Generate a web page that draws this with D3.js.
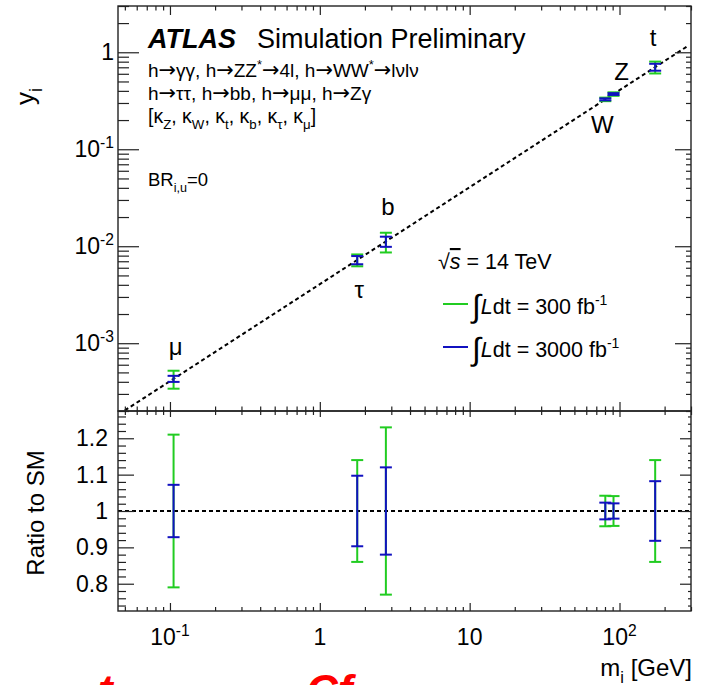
<!DOCTYPE html>
<html>
<head>
<meta charset="utf-8">
<script src="https://cdn.jsdelivr.net/npm/d3@7"></script>
<style>
  body { margin: 0; background: #fff; }
  svg { display: block; }
  text { font-family: "Liberation Sans", Arial, Helvetica, sans-serif; fill: #000; }
</style>
</head>
<body>
<svg id="chart"></svg>
<script>
// particle data
const particles = ["μ", "τ", "b", "W", "Z", "t"];
const masses = [0.1057, 1.777, 2.76, 80.4, 91.19, 173.0];      // GeV
const yValues = [4.3e-4, 7.22e-3, 1.12e-2, 0.327, 0.371, 0.703];
const ratioValues = [1, 1, 1, 1, 1, 1];
// relative uncertainties
const err300 = [0.21, 0.14, 0.23, 0.042, 0.041, 0.14];
const err3000 = [0.072, 0.097, 0.12, 0.023, 0.021, 0.082];
// SM expectation line y = m / v
const smLineMass = [0.05, 285];
const smLineY = [2.03e-4, 1.158];

const xMajorTicks = [0.1, 1, 10, 100];
const xTickLabels = [["10", "-1"], ["1", ""], ["10", ""], ["10", "2"]];
const yMajorTicks = [1, 0.1, 0.01, 0.001];
const yTickLabels = [["1", ""], ["10", "-1"], ["10", "-2"], ["10", "-3"]];
const ratioTicks = [0.8, 0.9, 1, 1.1, 1.2];
const ratioTickLabels = ["0.8", "0.9", "1", "1.1", "1.2"];

const width = 704, height = 685;
const frame = { left: 118, right: 691, top: 6, mid: 411, bottom: 611 };
const green = "#21cc21", blue = "#1111c0";

const svg = d3.select("#chart").attr("width", width).attr("height", height);

const x = d3.scaleLog().domain([0.045, 300]).range([frame.left, frame.right]);
const yTop = d3.scaleLog().domain([2e-4, 3]).range([frame.mid, frame.top]);
const yRatio = d3.scaleLinear().domain([0.725, 1.275]).range([frame.bottom, frame.mid]);

const isDecade = t => Math.abs(Math.log10(t) - Math.round(Math.log10(t))) < 1e-9;
const xMinor = x.ticks().filter(t => !isDecade(t));
const yMinor = yTop.ticks().filter(t => !isDecade(t));
const ratioMinor = yRatio.ticks(27).filter(t => !ratioTicks.some(m => Math.abs(m - t) < 1e-9));

// tick marks drawn with d3 axes, labels done separately
function tickMarks(axisFn, scale, values, size, transform) {
    svg.append("g")
        .attr("transform", transform)
        .call(axisFn(scale).tickValues(values).tickSize(size).tickSizeOuter(0).tickFormat(""))
        .call(g => g.select(".domain").remove())
        .call(g => g.selectAll("text").remove())
        .selectAll("line").attr("stroke", "#222").attr("stroke-width", 1.2);
}

// text with simple sub/superscript parts: [string, kind]
// arrows in normal parts get a wider glyph, like ROOT's #rightarrow
function richText(g, px, py, parts, size, anchor) {
    const t = g.append("text").attr("x", px).attr("y", py)
        .attr("font-size", size).attr("text-anchor", anchor || "start");
    let shift = 0;
    const expanded = [];
    parts.forEach(([s, kind]) => {
        if (kind === "n" && s.includes("→")) {
            s.split(/(→)/).forEach(piece => {
                if (piece) expanded.push([piece, piece === "→" ? "arrow" : "n"]);
            });
        } else expanded.push([s, kind]);
    });
    expanded.forEach(([s, kind]) => {
        if (!s) return;
        const sp = t.append("tspan").text(s);
        let target = 0;
        if (kind === "sub") { target = size * 0.3; sp.attr("font-size", size * 0.68); }
        else if (kind === "sup") { target = -size * 0.4; sp.attr("font-size", size * 0.68); }
        else if (kind === "it") { sp.attr("font-style", "italic"); }
        else if (kind === "bi") { sp.attr("font-style", "italic").attr("font-weight", "bold"); }
        else if (kind === "arrow") { sp.attr("font-family", "DejaVu Sans").attr("font-size", size * 1.1); }
        if (target !== shift) { sp.attr("dy", target - shift); shift = target; }
    });
    return t;
}

// ---------- top panel ----------
svg.append("clipPath").attr("id", "clipTop")
    .append("rect").attr("x", frame.left).attr("y", frame.top)
    .attr("width", frame.right - frame.left).attr("height", frame.mid - frame.top);

const topPanel = svg.append("g").attr("clip-path", "url(#clipTop)");

topPanel.append("path")
    .datum(d3.zip(smLineMass, smLineY))
    .attr("d", d3.line().x(d => x(d[0])).y(d => yTop(d[1])))
    .attr("fill", "none").attr("stroke", "#000").attr("stroke-width", 2)
    .attr("stroke-dasharray", "4,3");

function errorBars(g, yScale, centers, errs, relative, color) {
    const cap = 6;
    const lo = centers.map((c, i) => relative ? c * (1 - errs[i]) : c - errs[i]);
    const hi = centers.map((c, i) => relative ? c * (1 + errs[i]) : c + errs[i]);
    const bars = g.append("g").attr("stroke", color).attr("stroke-width", 2);
    masses.forEach((m, i) => {
        const cx = x(m);
        bars.append("line").attr("x1", cx).attr("x2", cx)
            .attr("y1", yScale(lo[i])).attr("y2", yScale(hi[i]));
        [lo[i], hi[i]].forEach(v => {
            bars.append("line").attr("x1", cx - cap).attr("x2", cx + cap)
                .attr("y1", yScale(v)).attr("y2", yScale(v));
        });
    });
}

errorBars(topPanel, yTop, yValues, err300, true, green);
errorBars(topPanel, yTop, yValues, err3000, true, blue);

// particle labels, offset from each point
const labelOffset = { "μ": [2, -24], "τ": [2, 38], "b": [2, -26], "W": [-3, 34], "Z": [8, -14], "t": [-2, -21] };
particles.forEach((p, i) => {
    svg.append("text")
        .attr("x", x(masses[i]) + labelOffset[p][0])
        .attr("y", yTop(yValues[i]) + labelOffset[p][1])
        .attr("text-anchor", "middle").attr("font-size", 24).text(p);
});

// ---------- ratio panel ----------
const bot = svg.append("g");
bot.append("line")
    .attr("x1", frame.left).attr("x2", frame.right)
    .attr("y1", yRatio(1)).attr("y2", yRatio(1))
    .attr("stroke", "#000").attr("stroke-width", 2).attr("stroke-dasharray", "4,3");
errorBars(bot, yRatio, ratioValues, err300, false, green);
errorBars(bot, yRatio, ratioValues, err3000, false, blue);

// ---------- frames and ticks ----------
[[frame.top, frame.mid], [frame.mid, frame.bottom]].forEach(([y0, y1]) => {
    svg.append("rect").attr("x", frame.left).attr("y", y0)
        .attr("width", frame.right - frame.left).attr("height", y1 - y0)
        .attr("fill", "none").attr("stroke", "#222").attr("stroke-width", 1.4);
});

// top panel
tickMarks(d3.axisLeft, yTop, yMajorTicks, -21, `translate(${frame.left},0)`);
tickMarks(d3.axisLeft, yTop, yMinor, -11, `translate(${frame.left},0)`);
tickMarks(d3.axisRight, yTop, yMajorTicks, -16, `translate(${frame.right},0)`);
tickMarks(d3.axisRight, yTop, yMinor, -5, `translate(${frame.right},0)`);
tickMarks(d3.axisTop, x, xMajorTicks, -9, `translate(0,${frame.top})`);
tickMarks(d3.axisTop, x, xMinor, -4.5, `translate(0,${frame.top})`);
tickMarks(d3.axisBottom, x, xMajorTicks, -9, `translate(0,${frame.mid})`);
tickMarks(d3.axisBottom, x, xMinor, -4.5, `translate(0,${frame.mid})`);
// ratio panel
tickMarks(d3.axisTop, x, xMajorTicks, -6, `translate(0,${frame.mid})`);
tickMarks(d3.axisTop, x, xMinor, -4, `translate(0,${frame.mid})`);
tickMarks(d3.axisBottom, x, xMajorTicks, -8, `translate(0,${frame.bottom})`);
tickMarks(d3.axisBottom, x, xMinor, -4, `translate(0,${frame.bottom})`);
tickMarks(d3.axisLeft, yRatio, ratioTicks, -16, `translate(${frame.left},0)`);
tickMarks(d3.axisLeft, yRatio, ratioMinor, -8, `translate(${frame.left},0)`);
tickMarks(d3.axisRight, yRatio, ratioTicks, -11, `translate(${frame.right},0)`);
tickMarks(d3.axisRight, yRatio, ratioMinor, -3, `translate(${frame.right},0)`);

// tick labels
const labels = svg.append("g");
xMajorTicks.forEach((t, i) => {
    richText(labels, x(t), 645, [[xTickLabels[i][0], "n"], [xTickLabels[i][1], "sup"]], 23, "middle");
});
yMajorTicks.forEach((t, i) => {
    richText(labels, 114, yTop(t) + 8, [[yTickLabels[i][0], "n"], [yTickLabels[i][1], "sup"]], 23, "end");
});
ratioTicks.forEach((t, i) => {
    labels.append("text").attr("x", 108).attr("y", yRatio(t) + 8)
        .attr("text-anchor", "end").attr("font-size", 23).text(ratioTickLabels[i]);
});

// axis titles
richText(svg.append("g").attr("transform", "translate(34,88) rotate(-90)"),
    0, 0, [["y", "n"], ["i", "sub"]], 26, "end");
svg.append("text").attr("transform", "translate(44,513) rotate(-90)")
    .attr("text-anchor", "middle").attr("font-size", 24).text("Ratio to SM");
richText(svg, 692, 676, [["m", "n"], ["i", "sub"], [" [GeV]", "n"]], 24, "end");

// ---------- annotations ----------
richText(svg, 148, 48, [["ATLAS", "bi"]], 27);
svg.append("text").attr("x", 257).attr("y", 48).attr("font-size", 27).text("Simulation Preliminary");
richText(svg, 148, 77, [["h→γγ, h→ZZ", "n"], ["*", "sup"], ["→4l, h→WW", "n"], ["*", "sup"], ["→lνlν", "n"]], 19);
richText(svg, 148, 100, [["h→ττ, h→bb, h→μμ, h→Zγ", "n"]], 19);
richText(svg, 148, 123, [["[κ", "n"], ["Z", "sub"], [", κ", "n"], ["W", "sub"], [", κ", "n"], ["t", "sub"],
    [", κ", "n"], ["b", "sub"], [", κ", "n"], ["τ", "sub"], [", κ", "n"], ["μ", "sub"], ["]", "n"]], 19.5);
richText(svg, 148, 186, [["BR", "n"], ["i,u", "sub"], ["=0", "n"]], 18.5);

// legend
const leg = svg.append("g");
const sq = leg.append("text").attr("x", 438).attr("y", 269).attr("font-size", 21.5);
sq.append("tspan").text("√");
sq.append("tspan").attr("font-style", "italic").attr("text-decoration", "overline").text("s");
sq.append("tspan").text(" = 14 TeV");

[[green, "300", 304], [blue, "3000", 347]].forEach(([c, lumi, ly]) => {
    leg.append("line").attr("x1", 443).attr("x2", 468).attr("y1", ly).attr("y2", ly)
        .attr("stroke", c).attr("stroke-width", 2);
    const t = leg.append("text").attr("x", 472).attr("y", ly + 10).attr("font-size", 21.5);
    t.append("tspan").attr("font-size", 32).attr("dy", 3).text("∫");
    t.append("tspan").attr("font-style", "italic").attr("dy", -3).text("L");
    t.append("tspan").text(`dt = ${lumi} fb`);
    t.append("tspan").attr("font-size", 14).attr("dy", -9).text("-1");
});

// red overflow text at the very bottom of the page
svg.append("text").attr("x", 98).attr("y", 706).attr("font-size", 44)
    .attr("font-weight", "bold").attr("font-style", "italic").style("fill", "#f00").text("t");
svg.append("text").attr("x", 306).attr("y", 706).attr("font-size", 44)
    .attr("font-weight", "bold").attr("font-style", "italic").style("fill", "#f00").text("Cf");
</script>
</body>
</html>
